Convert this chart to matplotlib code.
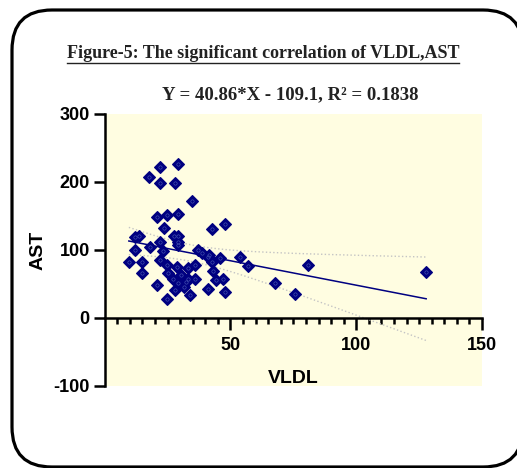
import numpy as np
import matplotlib.pyplot as plt
from matplotlib.patches import FancyBboxPatch

plt.rcParams['axes.unicode_minus'] = False

# values
vldl = [9.6, 12.0, 13.5, 12.0, 15.0, 15.0, 17.7, 18.0, 20.6, 20.6,
        22.1, 22.1, 22.1, 23.5, 21.9, 23.0, 24.7, 24.6, 25.0, 24.7,
        27.5, 27.8, 29.1, 29.1, 29.2, 29.2, 29.0, 27.2, 27.9, 28.6,
        30.5, 29.0, 31.6, 32.3, 33.2, 33.2, 34.9, 33.8, 35.8, 35.8,
        36.9, 38.5, 40.9, 41.1, 41.6, 42.7, 42.7, 43.1, 44.4, 46.0,
        47.7, 47.0, 47.7, 53.7, 56.8, 67.8, 75.8, 80.8, 127.8]
ast = [83, 119, 121, 100, 82, 66, 207, 104, 49, 149,
       222, 199, 112, 132, 85, 99, 152, 78, 66, 28,
       120, 199, 226, 153, 120, 108, 112, 58, 41, 75,
       63, 51, 46, 53, 73, 58, 172, 34, 58, 78,
       100, 96, 43, 90, 93, 83, 131, 69, 56, 88,
       138, 58, 38, 90, 76, 51, 36, 78, 67]

title = 'Figure-5: The significant correlation of VLDL,AST'
equation = 'Y = 40.86*X - 109.1, R\u00b2 = 0.1838'

navy = '#000080'
x = np.array(vldl)
y = np.array(ast)

# linear fit + 95% confidence band
b, a = np.polyfit(x, y, 1)
n = len(x)
resid = y - (a + b * x)
s = np.sqrt(np.sum(resid ** 2) / (n - 2))
sxx = np.sum((x - x.mean()) ** 2)
xs = np.linspace(x.min(), x.max(), 200)
ys = a + b * xs
half = 2.0 * s * np.sqrt(1 / n + (xs - x.mean()) ** 2 / sxx)

fig = plt.figure(figsize=(5.17, 4.68), dpi=100)

# overlay for the rounded frame and the title texts (pixel coords)
bg = fig.add_axes([0, 0, 1, 1], zorder=0)
bg.set_xlim(0, 517)
bg.set_ylim(468, 0)
bg.axis('off')
frame = FancyBboxPatch((12, 10), 511, 457, boxstyle='round,pad=0,rounding_size=40',
                       facecolor='white', edgecolor='black', linewidth=2.3, clip_on=False)
bg.add_patch(frame)
t = bg.text(263, 53, title, ha='center', va='center', fontsize=13,
            family='Liberation Serif', fontweight='bold', color='#222222')
bg.text(290, 95, equation, ha='center', va='center', fontsize=13.5,
        family='Liberation Serif', fontweight='bold', color='#222222')

ax = fig.add_axes([104.7 / 517, 1 - 386 / 468, 377.3 / 517, 272 / 468], zorder=1)
ax.set_facecolor('#FFFDE1')
ax.plot(xs, ys, color=navy, lw=1.1, zorder=3)
ax.plot(xs, ys + half, color='#c4c4c4', lw=1, ls=':', zorder=2)
ax.plot(xs, ys - half, color='#c4c4c4', lw=1, ls=':', zorder=2)
ax.plot(x, y, 'D', ms=5.8, color=navy, mec=navy, mew=0.8, zorder=4)
ax.plot(x, y, 'o', ms=2.4, mfc='none', mec='#4f5fb8', mew=0.4, zorder=5)

ax.set_xlim(0, 150)
ax.set_ylim(-100, 300)
ax.set_xticks([50, 100, 150])
ax.set_xticks(np.arange(5, 150, 5), minor=True)
ax.set_yticks([-100, 0, 100, 200, 300])
ax.spines['top'].set_visible(False)
ax.spines['right'].set_visible(False)
ax.spines['bottom'].set_position(('data', 0))
for sp in ['left', 'bottom']:
    ax.spines[sp].set_linewidth(1.8)
ax.tick_params(axis='x', which='major', length=8.5, width=1.8, pad=5)
ax.tick_params(axis='x', which='minor', length=4.3, width=1.8)
ax.tick_params(axis='y', length=7.7, width=1.8, pad=3)
for lab in ax.get_xticklabels() + ax.get_yticklabels():
    lab.set_family('Liberation Sans')
    lab.set_fontweight('bold')
    lab.set_fontsize(13)

ax.set_xlabel('VLDL', family='Liberation Sans', fontweight='bold', fontsize=14)
ax.xaxis.set_label_coords(0.5, 0.058)
ax.set_ylabel('AST', family='Liberation Sans', fontweight='bold', fontsize=14)
ax.yaxis.set_label_coords(-0.155, 0.5)

# underline the title
fig.canvas.draw()
bb = t.get_window_extent()
uy = 468 - bb.y0 + 1
bg.plot([bb.x0, bb.x1], [uy, uy], color='#222222', lw=1.0)

fig.savefig('out.png', dpi=100)
